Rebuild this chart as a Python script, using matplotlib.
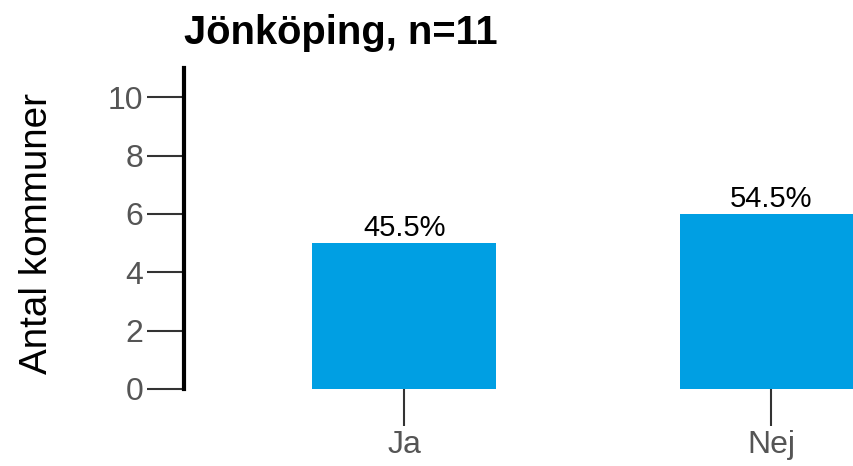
import matplotlib
matplotlib.use("Agg")
from matplotlib import pyplot as plt

# data
categories = ["Ja", "Nej"]
counts = [5, 6]
percent_labels = ["45.5%", "54.5%"]
title = "Jönköping, n=11"
ylabel = "Antal kommuner"
yticks = [0, 2, 4, 6, 8, 10]

plt.rcParams['font.family'] = ['Liberation Sans', 'DejaVu Sans']

fig = plt.figure(figsize=(8.54, 4.66), dpi=100)
ax = fig.add_axes([184/854, 1 - 389/466, 1 - 184/854, (389 - 68)/466])

x = list(range(len(categories)))
ax.bar(x, counts, width=0.5, color='#009FE3', zorder=2)
for xi, c, lab in zip(x, counts, percent_labels):
    ax.text(xi, c + 0.03, lab, ha='center', va='bottom', fontsize=21, color='black')

ax.set_xlim(-0.6, 1.225)
ax.set_ylim(0, 11)
ax.set_xticks(x)
ax.set_xticklabels(categories)
ax.set_yticks(yticks)

for s in ['top', 'right', 'bottom']:
    ax.spines[s].set_visible(False)
ax.spines['left'].set_linewidth(3)
ax.spines['left'].set_bounds(0, 11)

ax.tick_params(axis='both', length=26.5, width=1.5, color='#333333',
               labelcolor='#555555', labelsize=23, pad=3)

ax.set_ylabel(ylabel, fontsize=27.8, labelpad=38)
ax.yaxis.label.set_y(0.484)
fig.text(184/854, 1 - 44/466, title, fontsize=28.7, fontweight='bold',
         ha='left', va='baseline')

fig.savefig('out.png', dpi=100)
